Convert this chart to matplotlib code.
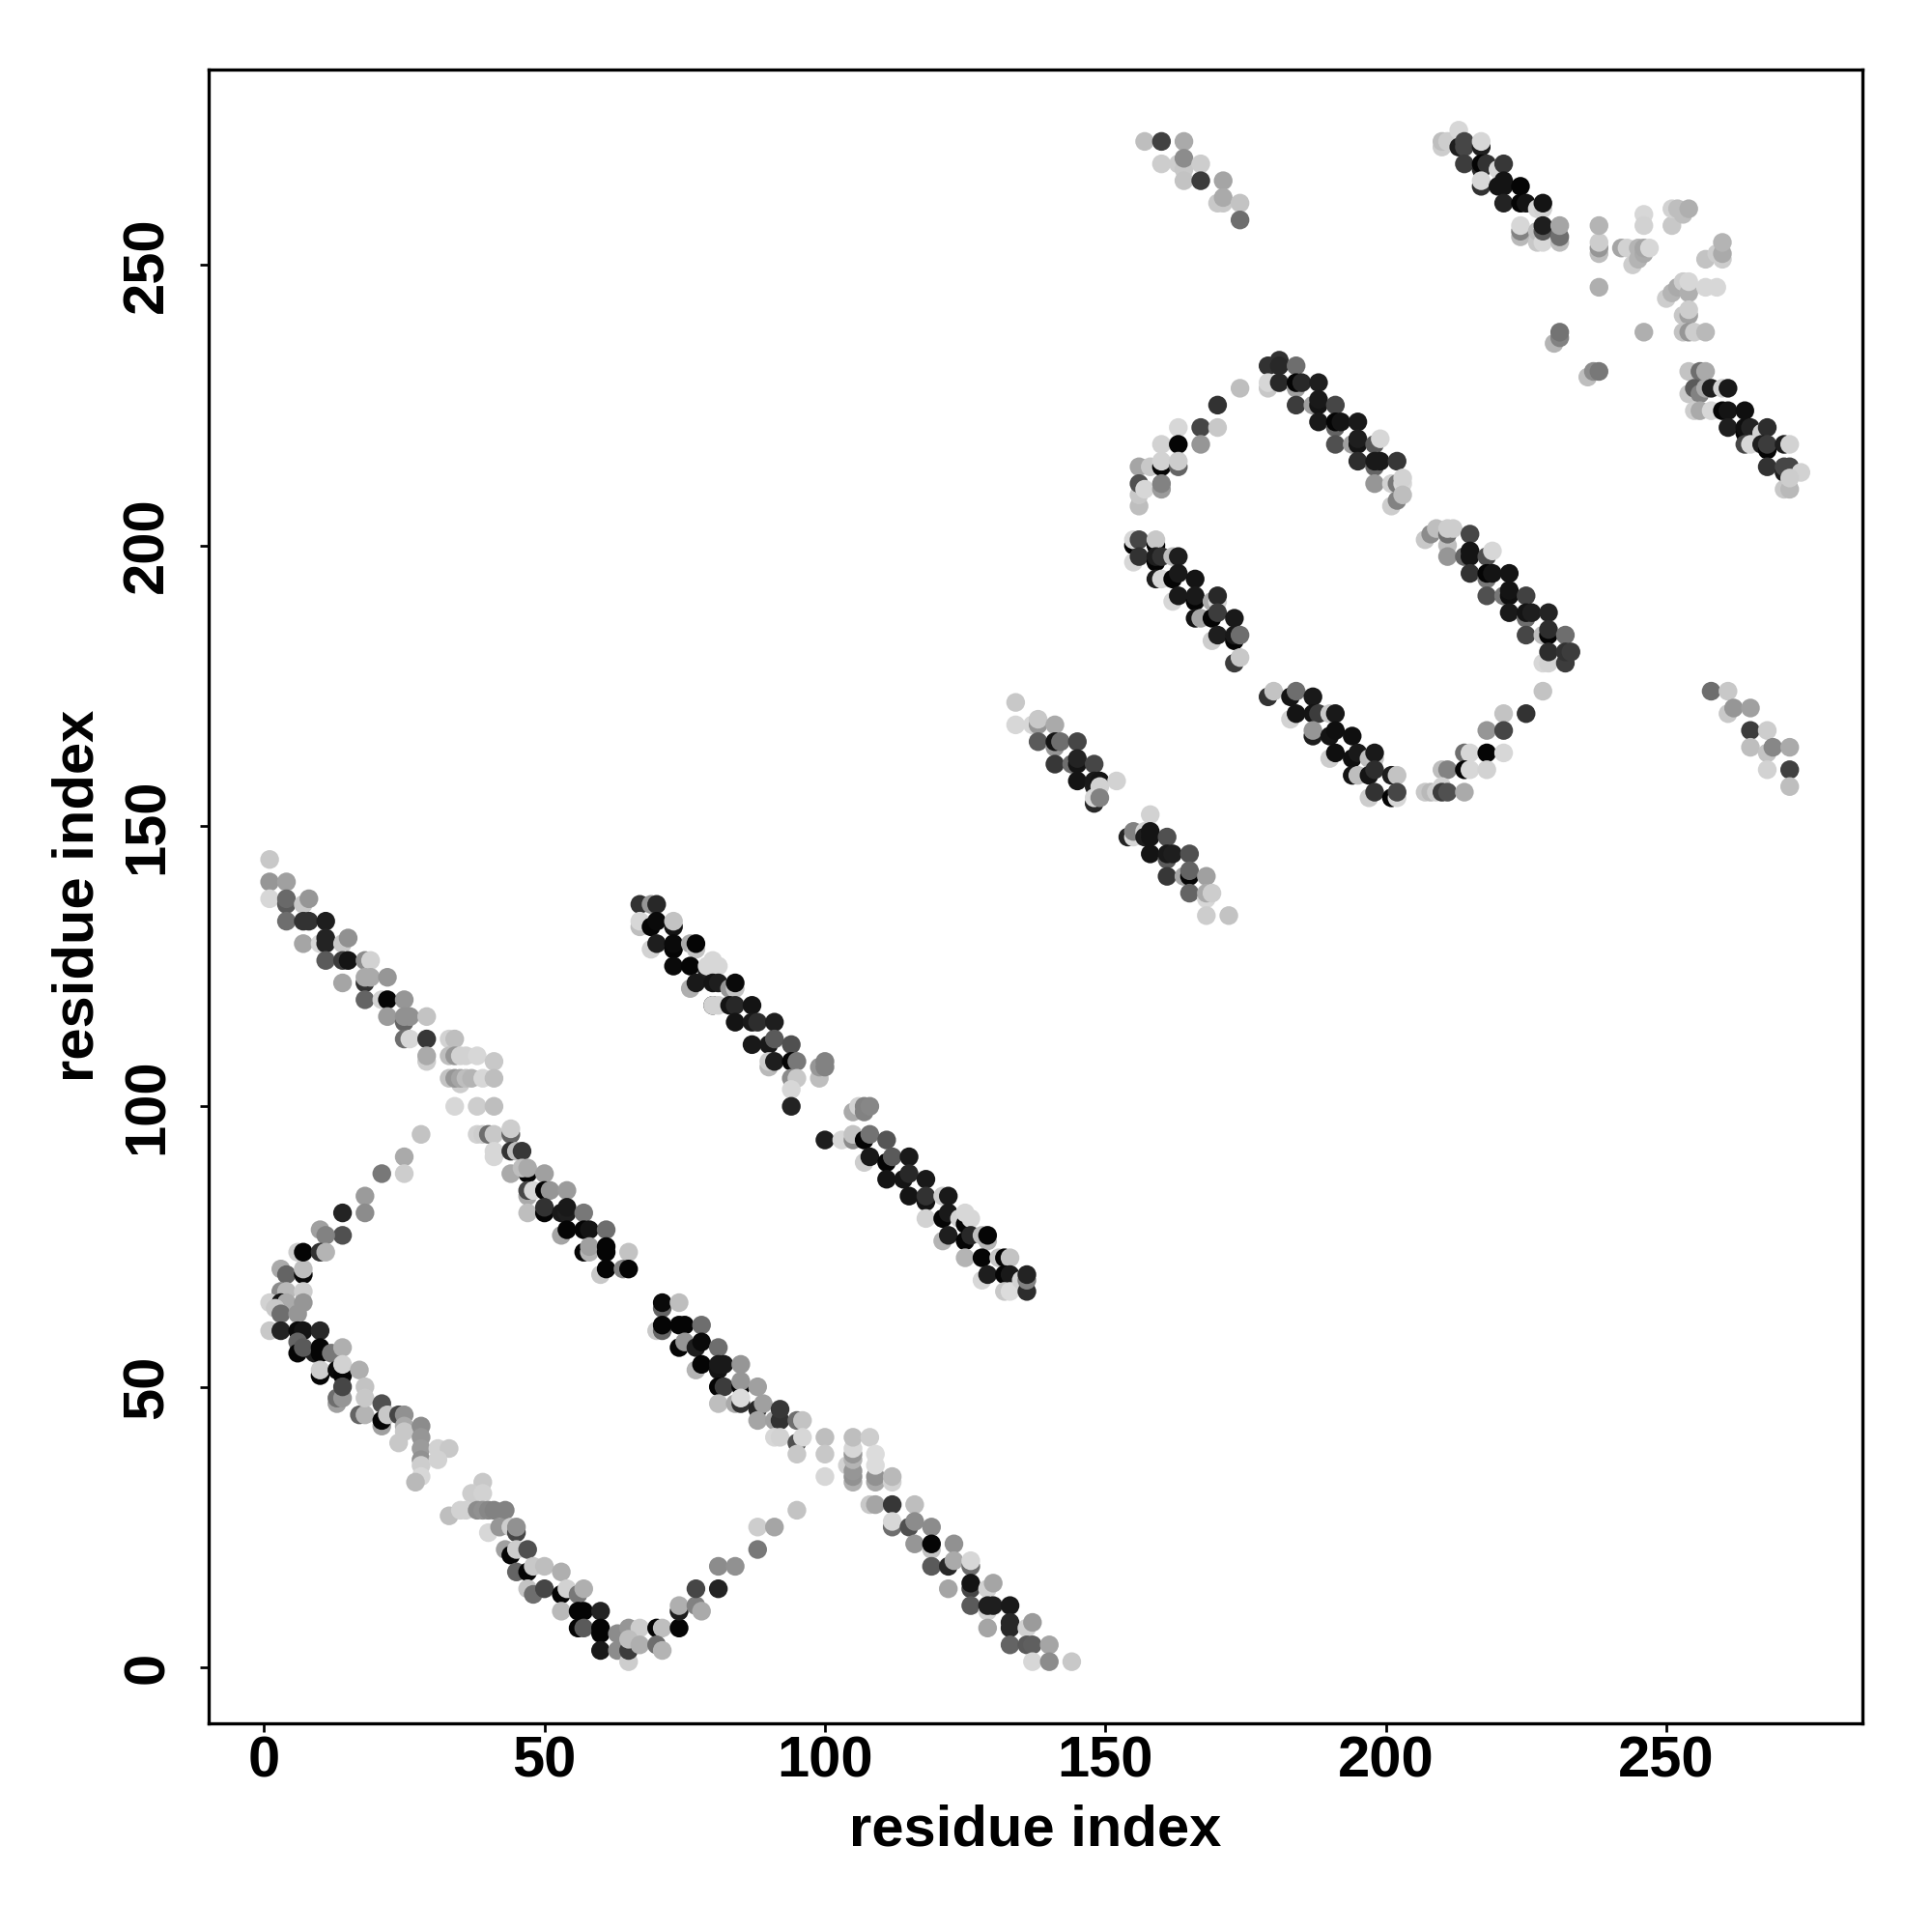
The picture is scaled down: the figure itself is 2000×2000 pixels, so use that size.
# %%
from matplotlib import pyplot as plt

# residue i, residue j, grey level (0 black - 255 white)
loop_low_left = [(3,71,170),(4,70,100),(7,70,10),(7,71,190),(3,67,140),(4,67,185),(7,67,205),(1,65,210),(3,65,20),
    (4,65,170),(7,65,150),(2,64,200),(3,63,110),(6,63,150),(1,60,200),(3,60,35),(6,60,10),(7,60,20),(10,60,40),
    (6,58,100),(6,56,5),(9,56,30),(7,57,90),(10,57,5),(10,56,5),(12,56,120),(14,57,175),(10,52,5),(10,53,205),
    (13,53,10),(14,52,5),(14,54,210),(17,53,175),(13,47,160),(13,48,110),(14,48,150),(14,50,70),(18,50,195),
    (17,45,100),(18,45,180),(18,48,200),(21,47,80),(21,43,160),(21,44,5),(22,45,200),(24,45,70),(25,45,145),
    (25,43,170),(25,42,200),(24,40,200)]
col_28 = [(28,43,140),(28,41,150),(28,39,155),(28,37,145),(28,36,205),(28,34,215),(27,33,185),(31,39,210),(33,39,200),(31,37,210)]
row_29 = [(39,33,200),(37,31,205),(39,31,210),(33,27,190),(35,28,210),(36,28,210),(38,28,140),(39,28,145),(40,28,135),
    (41,28,130),(43,28,130)]
loop_low_mid = [(40,24,215),(42,25,150),(44,25,205),(45,24,70),(45,25,145),(43,21,160),(44,20,5),(45,21,205),(47,21,80),
    (45,17,100),(47,17,5),(48,18,200),(50,18,190),(53,17,175),(47,14,195),(48,13,110),(50,14,70),(53,13,5),(54,14,210),
    (56,13,120),(57,14,175),(53,10,185),(56,10,5),(57,10,5),(60,10,35),(56,7,5),(57,7,90),(60,7,5),(60,6,5),(63,6,140),
    (65,7,150),(67,7,205),(70,7,5),(71,7,190),(60,3,25),(63,3,140),(65,1,205),(65,3,60),(65,5,190),(67,4,175),(70,4,110),(71,3,180)]
arm_low = [(74,7,5),(74,10,30),(74,11,175),(77,11,130),(78,10,170),(77,14,70),(81,14,35),(81,18,140),(84,18,145),(88,21,120),
    (88,25,205),(91,25,165),(95,28,195)]
strand_a = [(71,64,100),(71,65,10),(74,65,190),(70,60,200),(71,60,100),(71,61,5),(74,61,5),(75,61,5),(78,61,110),(74,57,5),
    (75,58,150),(77,57,30),(78,58,10),(81,57,110),(77,53,180),(78,54,5),(81,53,20),(81,54,25),(82,54,25),(85,54,150),
    (81,50,5),(82,50,60),(85,50,5),(85,51,150),(88,50,160),(81,47,190),(84,47,170),(85,47,50),(85,48,220),(88,46,40),
    (89,47,160),(88,44,165),(91,44,160),(92,44,50),(92,46,55),(95,44,110),(96,44,195),(91,41,215),(92,41,210),(95,40,80),
    (96,41,215),(95,38,200)]
col_105 = [(100,41,190),(100,38,200),(100,34,215),(104,36,210),(105,33,175),(105,34,145),(105,35,150),(105,37,180),(105,38,150),
    (105,39,215),(105,41,190),(108,41,205),(109,33,170),(109,34,145),(109,36,220),(109,38,220),(112,33,210),(112,34,185)]
strand_b = [(108,29,200),(109,29,165),(112,29,55),(116,29,190),(112,25,110),(112,26,215),(115,25,80),(116,26,140),(119,25,140),
    (116,22,150),(119,21,195),(119,22,5),(123,22,145),(119,18,90),(122,18,40),(123,19,170),(126,18,110),(126,19,215),
    (122,14,165),(126,14,70),(126,15,20),(129,14,210),(130,15,165),(126,11,90),(129,10,210),(129,11,30),(130,11,30),(133,11,25),
    (129,7,165),(133,7,40),(133,8,40),(136,7,210),(137,8,155),(133,4,100),(136,4,90),(137,4,95),(140,4,165),(137,1,215),
    (140,1,140),(144,1,200)]
strand_c = [(1,144,200),(1,140,150),(4,140,160),(1,137,215),(4,136,90),(4,137,105),(7,136,200),(8,137,150),(4,133,110),(7,133,50),
    (8,133,50),(11,133,30),(7,129,165),(10,129,215),(11,129,35),(11,130,35),(14,129,200),(15,130,145),(11,126,90),(14,126,60),
    (15,126,20),(18,126,140),(19,126,210),(14,122,165),(18,122,50),(18,123,170),(19,123,170),(22,123,150),(18,119,100),
    (21,119,210),(22,119,5),(25,119,150),(22,116,155),(25,115,100),(25,116,145),(26,116,145),(29,116,195),(25,112,110),
    (26,112,215),(29,112,55),(33,112,210),(34,112,190),(29,108,205),(29,109,170)]
cross_x = [(33,109,190),(34,109,150),(35,109,210),(36,109,210),(38,109,215),(41,108,200),(35,104,205),(33,105,195),(34,105,150),
    (35,105,165),(36,105,190),(37,105,180),(39,105,215),(41,105,190),(34,100,215),(38,100,205),(41,100,190)]
strand_d = [(38,95,210),(39,95,205),(40,95,110),(41,95,200),(44,95,100),(44,96,205),(41,91,215),(41,92,215),(44,92,50),(45,92,190),
    (46,92,55),(44,88,170),(47,88,5),(46,89,190),(47,89,170),(50,88,160),(47,84,170),(47,85,70),(48,85,215),(50,85,5),(51,85,150),
    (54,85,155),(47,81,190),(50,81,5),(50,82,50),(53,81,25),(54,81,30),(54,82,25),(57,81,120),(53,77,165),(54,78,5),(57,78,5),
    (58,78,20),(61,78,110),(57,74,5),(58,74,180),(58,75,160),(61,74,5),(61,75,5),(65,74,195),(60,70,200),(61,71,5),(64,71,130),(65,71,5)]
arm_up = [(28,95,195),(25,91,170),(25,88,205),(21,88,120),(18,84,155),(18,81,140),(14,81,35),(14,77,80),(10,78,160),(11,77,130),
    (6,74,205),(7,74,5),(10,74,50),(11,74,180)]
strand_e = [(67,136,50),(69,136,150),(70,136,40),(67,132,190),(67,133,215),(69,132,5),(70,133,10),(73,132,20),(73,133,195),(69,128,210),
    (70,129,30),(73,128,5),(73,129,10),(76,129,170),(77,128,195),(77,129,5),(73,125,10),(76,125,5),(79,124,30),(79,125,215),
    (80,126,215),(81,125,215),(76,121,175),(77,122,25),(80,122,20),(81,122,30),(83,121,150),(84,121,195),(84,122,10),(80,118,10),
    (80,118,210),(81,118,210),(83,118,20),(84,118,40),(87,118,20),(84,115,20),(87,115,25),(88,115,45),(91,115,30),(87,111,25),
    (90,111,25),(91,112,90),(94,111,80),(90,107,185),(90,108,205),(91,108,30),(94,108,5),(95,108,120),(94,105,140),(95,105,200),
    (94,103,215),(94,100,35),(99,105,190),(99,107,150),(100,107,130),(100,108,130)]
strand_f = [(100,94,30),(103,94,215),(105,94,140),(105,95,195),(105,99,170),(106,100,210),(107,99,130),(107,100,130),(108,100,135),
    (107,94,5),(108,95,115),(111,94,85),(107,90,205),(108,91,25),(111,90,5),(112,91,90),(115,91,25),(111,87,20),(114,87,20),
    (115,88,40),(118,87,25),(115,84,20),(118,83,20),(118,84,50),(121,84,205),(122,84,25),(118,80,210),(121,80,5),(122,81,25),
    (124,80,210),(125,79,5),(125,81,215),(126,80,215),(121,76,180),(122,77,30),(125,76,5),(126,77,40),(128,77,190),(129,76,180),
    (129,77,5),(125,73,180),(128,73,5),(131,73,200),(132,73,5),(133,73,195),(128,69,215),(129,70,30),(132,70,5),(133,70,25),
    (132,67,200),(133,67,220),(135,69,210),(136,67,45),(136,69,130),(136,70,35)]
strand_g = [(134,172,200),(134,168,215),(137,168,215),(138,168,150),(138,169,200),(141,168,170),(138,165,90),(141,164,150),(141,165,20),
    (142,165,110),(145,165,70),(141,161,55),(144,161,110),(145,161,20),(145,162,35),(148,161,70),(145,158,20),(148,157,30),
    (148,158,25),(149,158,20),(149,157,210),(152,158,210),(148,154,40),(148,155,215),(149,155,130)]
strand_h = [(158,152,210),(154,148,35),(155,148,215),(155,149,130),(157,149,210),(157,148,30),(158,148,20),(158,149,20),(161,148,80),
    (158,145,20),(161,144,90),(161,145,25),(162,145,30),(165,145,80),(161,141,55),(164,141,165),(165,141,5),(165,142,100),(168,141,160),
    (165,138,100),(168,137,215),(168,138,170),(169,138,205),(168,134,205),(172,134,195)]
arc_upper = [(174,228,190),(170,225,50),(163,221,215),(167,221,70),(170,221,200),(160,218,210),(163,218,5),(167,218,150),
    (156,214,165),(158,214,200),(160,214,5),(160,215,210),(163,214,100),(163,215,205),(156,207,190),(156,209,200),(156,211,80),
    (157,210,215),(160,210,155),(160,211,130)]
strand_i = [(179,232,50),(181,233,50),(181,232,40),(184,232,110),(179,228,200),(179,229,215),(181,229,40),(184,228,160),(184,229,5),
    (185,229,40),(188,229,30),(184,225,60),(187,225,160),(188,225,20),(188,226,25),(191,225,70),(188,222,25),(191,221,100),(191,222,5),
    (192,222,20),(195,222,25),(191,218,80),(194,218,160),(195,218,20),(195,219,30),(198,218,90),(199,219,215),(195,215,45),(198,214,100),
    (198,215,25),(199,215,25),(202,215,55),(198,211,150),(201,211,210),(202,211,120),(203,211,215),(203,212,210),(201,207,205),
    (202,208,130),(203,209,190)]
strand_j = [(155,200,5),(155,201,215),(156,201,70),(159,200,5),(159,201,200),(155,197,215),(156,198,50),(159,197,5),(159,198,30),(160,198,50),
    (162,198,190),(163,198,30),(159,194,30),(160,194,215),(162,194,5),(163,195,25),(166,194,20),(162,190,215),(163,191,25),(166,190,5),
    (166,191,25),(169,190,170),(170,190,210),(170,191,40),(166,187,20),(167,187,165),(169,187,5),(170,188,60),(173,187,25),(169,183,205),
    (170,184,30),(173,183,5),(173,184,25),(174,184,110),(173,179,60),(174,180,200)]
strand_k = [(207,201,200),(208,202,140),(209,203,190),(211,200,190),(211,202,110),(211,203,205),(212,203,205),(215,202,70),(211,198,150),
    (214,198,100),(215,198,20),(215,199,20),(218,198,80),(219,199,215),(215,195,50),(218,194,120),(218,195,5),(219,195,20),(222,195,20),
    (218,191,80),(221,191,120),(222,191,15),(222,192,20),(225,191,65),(222,188,25),(225,187,110),(225,188,20),(226,188,30),(229,188,35),
    (225,184,70),(228,184,190),(229,184,5),(229,185,45),(232,184,110),(228,179,215),(229,179,210),(229,181,45),(232,179,60),(232,181,50),(233,181,60)]
arc_lower = [(228,174,195),(221,170,195),(225,170,50),(218,167,150),(221,167,70),(214,163,110),(215,163,215),(218,163,5),(221,163,215),
    (210,160,190),(211,160,130),(214,160,5),(215,160,215),(218,160,210),(207,156,200),(208,156,185),(209,156,205),(210,157,210),
    (210,156,60),(211,156,80),(214,156,170)]
strand_l = [(179,173,50),(180,174,195),(183,173,20),(184,174,110),(187,173,25),(183,169,210),(184,170,20),(187,170,20),(188,170,60),
    (190,170,200),(191,170,25),(187,166,30),(187,167,150),(190,166,20),(191,167,15),(194,166,15),(190,162,205),(191,163,15),(194,162,15),
    (195,163,25),(197,162,190),(198,162,195),(198,163,25),(194,159,20),(195,159,190),(197,159,20),(198,160,45),(201,159,30),(202,159,195),
    (197,155,205),(198,156,50),(201,155,5),(202,155,215),(202,156,70)]
top_left = [(157,272,190),(160,272,65),(164,272,170),(160,268,205),(163,268,205),(164,267,200),(164,269,140),(167,268,205),(164,265,195),
    (167,265,60),(171,265,165),(170,261,200),(171,261,200),(171,262,170),(174,261,195),(174,258,110)]
top_right = [(210,271,205),(210,272,190),(211,272,205),(213,274,215),(213,271,30),(214,271,70),(214,272,70),(217,271,30),(217,272,215),
    (214,268,60),(217,267,40),(217,268,5),(218,268,50),(220,267,215),(221,268,55),(217,264,50),(217,265,215),(220,264,20),(221,264,20),
    (221,265,20),(224,264,5),(221,261,35),(224,261,5),(225,261,20),(227,260,215),(228,260,210),(228,261,20),(224,255,185),(224,256,130),
    (224,257,215),(227,254,200),(227,256,190),(228,254,215),(228,256,90),(228,257,30),(231,254,190),(231,255,110),(231,257,165)]
cross_y = [(230,236,180),(231,237,130),(231,238,115),(236,230,190),(237,231,140),(238,231,120),(238,252,190),(238,253,150),(238,254,205),
    (238,257,180),(238,246,175),(246,259,215),(246,257,210),(242,253,165),(243,253,210),(244,250,205),(245,251,180),(245,253,180),
    (246,252,170),(246,253,165),(247,253,215),(251,257,200),(251,260,210),(252,260,190),(253,259,190),(254,260,175),(257,251,195),
    (259,252,205),(260,251,205),(260,252,170),(260,254,180),(250,244,205),(251,245,180),(252,246,170),(253,247,205),(254,245,175),
    (254,247,215),(253,241,200),(254,241,160),(254,242,205),(257,246,215),(259,246,215),(246,238,175),(253,238,195),(254,238,150),
    (255,238,205),(257,238,185)]
strand_m = [(254,231,195),(256,231,110),(257,231,170),(254,227,200),(255,228,90),(256,227,130),(257,228,170),(258,228,30),(260,228,210),
    (261,228,25),(255,224,205),(256,224,170),(258,224,215),(260,224,5),(261,224,20),(264,224,15),(261,221,30),(264,220,5),(264,221,15),
    (265,221,35),(267,220,210),(268,221,45),(264,218,70),(265,218,215),(267,218,30),(268,217,5),(268,218,60),(271,218,30),(272,218,210),
    (268,214,50),(271,213,30),(271,214,70),(272,214,70),(274,213,210),(271,210,200),(272,210,185),(272,212,205)]
low_right = [(258,174,110),(261,174,200),(261,170,200),(262,171,150),(265,171,160),(265,167,60),(268,167,205),(265,164,190),(268,163,195),
    (269,164,135),(272,164,170),(268,160,210),(272,160,65),(272,157,190)]

tick_vals = [0, 50, 100, 150, 200, 250]
axis_name = 'residue index'

# %%
all_groups = [loop_low_left, col_28, row_29, loop_low_mid, arm_low, strand_a, col_105, strand_b, strand_c, cross_x,
              strand_d, arm_up, strand_e, strand_f, strand_g, strand_h, arc_upper, strand_i, strand_j, strand_k,
              arc_lower, strand_l, top_left, top_right, cross_y, strand_m, low_right]
res_i = [p[0] for grp in all_groups for p in grp]
res_j = [p[1] for grp in all_groups for p in grp]
shade = [str(p[2] / 255) for grp in all_groups for p in grp]

# %%
plt.rcParams['font.family'] = ['Liberation Sans', 'DejaVu Sans']
plt.rcParams['font.weight'] = 'bold'

fig = plt.figure(figsize=(20, 20), dpi=100)
ax = fig.add_axes([0.108, 0.108, 0.8558, 0.85625])
ax.scatter(res_i, res_j, c=shade, s=195, linewidths=0, zorder=2)

ax.set_xlim(-9.87, 284.9)
ax.set_ylim(-9.99, 284.9)
ax.set_xticks(tick_vals)
ax.set_yticks(tick_vals)
ax.tick_params(axis='both', labelsize=43, width=1.95, length=6.3)
ax.tick_params(axis='x', pad=2.4)
ax.tick_params(axis='y', pad=19)
for lab in ax.get_yticklabels():
    lab.set_rotation(90)
    lab.set_va('center')
for side in ax.spines.values():
    side.set_linewidth(2.4)

ax.set_xlabel(axis_name, fontsize=43, fontweight='bold')
ax.set_ylabel(axis_name, fontsize=43, fontweight='bold')
ax.xaxis.set_label_coords(0.5, -0.0485)
ax.yaxis.set_label_coords(-0.063, 0.5)

fig.savefig('out.png', dpi=100, facecolor='white')
